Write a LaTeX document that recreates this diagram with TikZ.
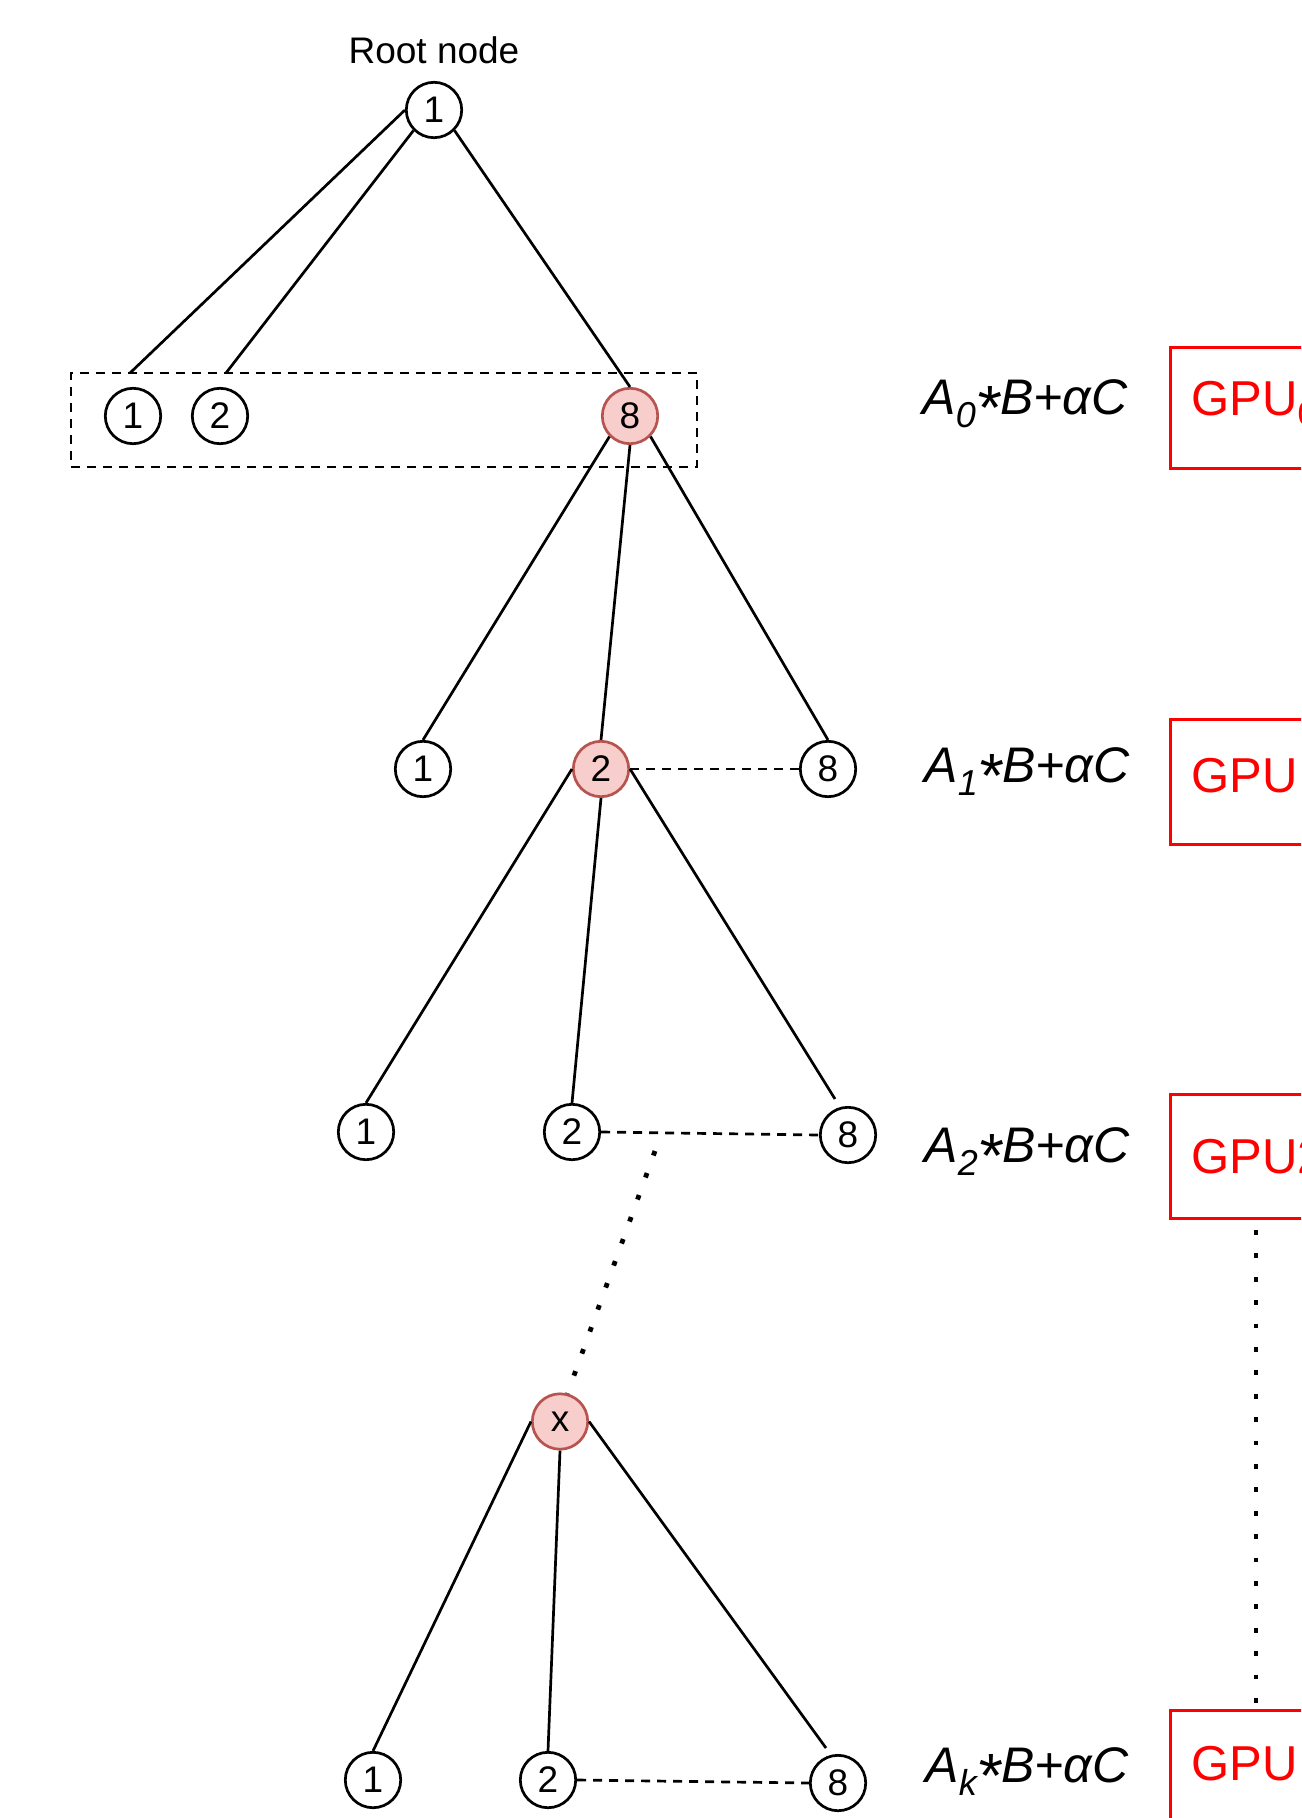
\documentclass[tikz,border=0pt]{standalone}
\usepackage{fontspec}
\setmainfont{Liberation Sans}
\usepackage{graphicx}
\usetikzlibrary{calc}
\definecolor{redfill}{HTML}{F8CECC}
\definecolor{redline}{HTML}{B85450}
\definecolor{gpured}{HTML}{FF0000}
\newcommand{\fml}[1]{A\raisebox{-6.5pt}{\fontsize{18}{18}\selectfont #1}\raisebox{-7.5pt}{\scalebox{1.25}{*}}B+αC}
\newcommand{\gsub}[1]{\raisebox{-5pt}{\fontsize{17}{17}\selectfont #1}}
\begin{document}
\begin{tikzpicture}[x=0.5pt,y=-0.5pt,
  tn/.style={circle,draw=black,line width=1.35pt,minimum size=27.7pt,inner sep=0pt,fill=white,font=\fontsize{18.5}{18.5}\selectfont},
  rn/.style={tn,draw=redline,fill=redfill},
  edge/.style={line width=1.35pt},
  dsh/.style={line width=1.35pt,dash pattern=on 4.5pt off 3.5pt},
  dts/.style={line width=2.4pt,dash pattern=on 2.4pt off 9.3pt},
  gbox/.style={draw=gpured,line width=1.5pt,inner sep=0pt,anchor=north west,minimum width=100pt},
  ftxt/.style={anchor=base west,inner sep=0pt,font=\fontsize{25}{25}\selectfont\itshape},
  gtxt/.style={anchor=base west,inner sep=0pt,text=gpured,font=\fontsize{24.5}{24.5}\selectfont}]
\clip (0,0) rectangle (1301,1818);
\fill[white] (0,0) rectangle (1301,1818);

% root
\node[anchor=base,inner sep=0pt,font=\fontsize{18.5}{18.5}\selectfont] (lbl) at (434,64) {Root node};
\node[tn] (r) at (434,110) {1};

% level 1 group
\node[draw,dsh,inner sep=0pt,minimum width=313pt,minimum height=47pt] (grp) at (384,420) {};
\node[tn] (a1) at (133,416) {1};
\node[tn] (a2) at (220,416) {2};
\node[rn] (a8) at (630,416) {8};
\coordinate (t1) at (130,373);
\coordinate (t2) at (226,373);
\draw[edge] (r.west) -- (t1);
\draw[edge] (r.south west) -- (t2);
\draw[edge] (r.south east) -- (a8.north);

% level 2
\node[tn] (b1) at (423,769) {1};
\node[rn] (b2) at (601,769) {2};
\node[tn] (b8) at (828,769) {8};
\draw[edge] (a8.south west) -- (b1.north);
\draw[edge] (a8.south) -- (b2.north);
\draw[edge] (a8.south east) -- (b8.north);
\draw[dsh] (b2.east) -- (b8.west);

% level 3
\node[tn] (c1) at (366,1132) {1};
\node[tn] (c2) at (572,1132) {2};
\node[tn] (c8) at (848,1135) {8};
\coordinate (t3) at (835,1099);
\draw[edge] (b2.west) -- (c1.north);
\draw[edge] (b2.south) -- (c2.north);
\draw[edge] (b2.east) -- (t3);
\draw[dsh] (c2.east) -- (c8.west);

% level x
\node[rn] (x) at (560,1421.5) {x};
\coordinate (t4) at (655,1151);
\draw[dts] (t4) -- (x.75);

% level k
\node[tn] (d1) at (373,1780) {1};
\node[tn] (d2) at (548,1780) {2};
\node[tn] (d8) at (838,1783) {8};
\coordinate (t5) at (826,1748);
\draw[edge] (x.west) -- (d1.north);
\draw[edge] (x.south) -- (d2.north);
\draw[edge] (x.east) -- (t5);
\draw[dsh] (d2.east) -- (d8.west);

% formulas
\node[ftxt] (f0) at (922,415) {\fml{0}};
\node[ftxt] (f1) at (924,782) {\fml{1}};
\node[ftxt] (f2) at (924,1162) {\fml{2}};
\node[ftxt] (fk) at (925,1782) {\fml{k}};

% GPU boxes
\node[gbox,minimum height=60.5pt] (g1) at (1169,346) {};
\node[gbox,minimum height=62.5pt] (g2) at (1169,718) {};
\node[gbox,minimum height=62pt] (g3) at (1169,1093) {};
\node[gbox,minimum height=70pt] (g4) at (1169,1709) {};
\node[gtxt] (gt1) at (1191,416) {GPU\gsub{0}};
\node[gtxt] (gt2) at (1191,792) {GPU\hspace{2pt}\gsub{1}};
\node[gtxt] (gt3) at (1191,1173) {GPU2};
\node[gtxt] (gt4) at (1191,1780) {GPU\hspace{2pt}\gsub{k}};
\coordinate (v1) at ($(g3.south west)+(87,10)$);
\coordinate (v2) at ($(g4.north west)+(87,0)$);
\draw[dts] (v1) -- (v2);
\end{tikzpicture}
\end{document}
